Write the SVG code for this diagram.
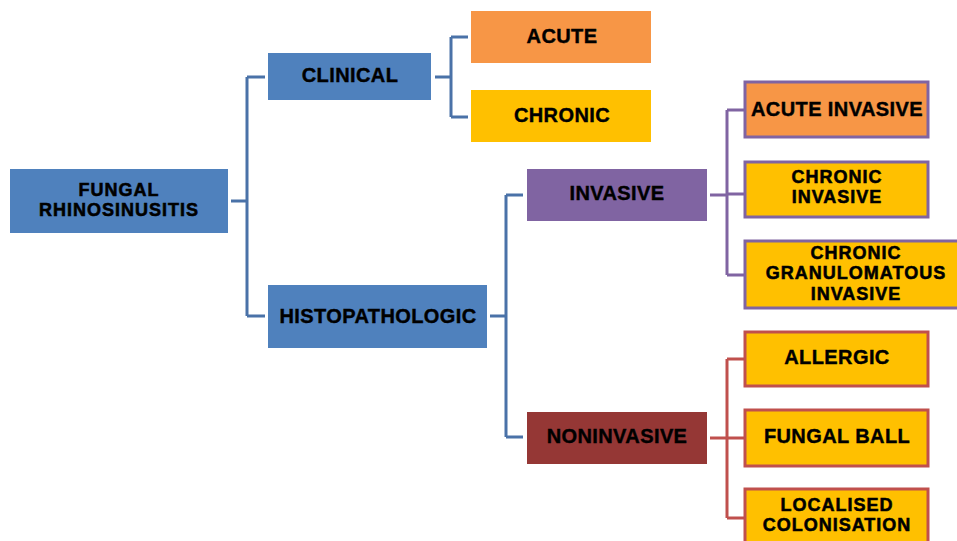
<svg xmlns="http://www.w3.org/2000/svg" width="957" height="541" viewBox="0 0 957 541">
<style>
text{font-family:"Liberation Sans",Arial,sans-serif;font-weight:bold;font-size:20px;letter-spacing:0.4px;fill:#000;stroke:#000;stroke-width:0.4;text-anchor:middle}
text.m{font-size:18px;letter-spacing:1px;stroke-width:0.55}
.blue{fill:#4F81BD}
.orange{fill:#F79646}
.yellow{fill:#FFC000}
.purple{fill:#8064A2}
.red{fill:#953735}
.bp{stroke:#8064A2;stroke-width:3}
.br{stroke:#C0504D;stroke-width:3}
.c{fill:none;stroke-width:3}
.cb{stroke:#4A72A8}
.cp{stroke:#8064A2}
.cr{stroke:#C0504D}
</style>
<rect width="957" height="541" fill="#fff"/>
<g id="connectors">
<path class="c cb" d="M231 201H247M247 77V316M247 77H265M247 316H265"/>
<path class="c cb" d="M435 77H451M451 37V117M451 37H468M451 117H468"/>
<path class="c cb" d="M490 316H506M506 195V437M506 195H523M506 437H523"/>
<path class="c cp" d="M710 195H727M727 110V275M727 110H744M727 194H744M727 275H744"/>
<path class="c cr" d="M710 438H727M727 359V518M727 359H744M727 438H744M727 518H744"/>
</g>
<g id="root"><rect class="blue" x="10" y="169" width="218" height="64"/><text class="m" x="119" y="196">FUNGAL<tspan x="119" dy="20.3">RHINOSINUSITIS</tspan></text></g>
<g id="clinical"><rect class="blue" x="268" y="53" width="163" height="47"/><text x="350" y="82">CLINICAL</text></g>
<g id="histopathologic"><rect class="blue" x="268" y="285" width="219" height="63"/><text x="378" y="323">HISTOPATHOLOGIC</text></g>
<g id="acute"><rect class="orange" x="471" y="11" width="180" height="52"/><text x="562" y="43">ACUTE</text></g>
<g id="chronic"><rect class="yellow" x="471" y="90" width="180" height="52"/><text x="562" y="122">CHRONIC</text></g>
<g id="invasive"><rect class="purple" x="527" y="169" width="180" height="52"/><text x="617" y="200">INVASIVE</text></g>
<g id="noninvasive"><rect class="red" x="527" y="412" width="180" height="52"/><text x="617" y="443">NONINVASIVE</text></g>
<g id="acute-invasive"><rect class="orange bp" x="745" y="82" width="183" height="55"/><text x="837" y="116">ACUTE INVASIVE</text></g>
<g id="chronic-invasive"><rect class="yellow bp" x="745" y="162" width="183" height="55"/><text class="m" x="837" y="183">CHRONIC<tspan x="837" dy="20.3">INVASIVE</tspan></text></g>
<g id="chronic-granulomatous-invasive"><rect class="yellow bp" x="745" y="241" width="225" height="67"/><text class="m" x="856" y="259">CHRONIC<tspan x="856" dy="20.3">GRANULOMATOUS</tspan><tspan x="856" dy="20.3">INVASIVE</tspan></text></g>
<g id="allergic"><rect class="yellow br" x="745" y="332" width="183" height="54"/><text x="837" y="364">ALLERGIC</text></g>
<g id="fungal-ball"><rect class="yellow br" x="745" y="410" width="183" height="56"/><text x="837" y="443">FUNGAL BALL</text></g>
<g id="localised-colonisation"><rect class="yellow br" x="745" y="489" width="183" height="60"/><text class="m" x="837" y="511">LOCALISED<tspan x="837" dy="20.3">COLONISATION</tspan></text></g>
</svg>
